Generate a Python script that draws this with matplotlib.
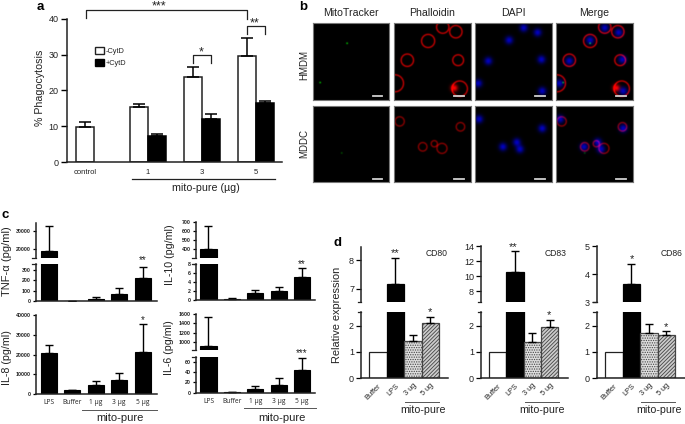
import numpy as np
import matplotlib
matplotlib.use('Agg')
import matplotlib.pyplot as plt
from matplotlib.lines import Line2D
from matplotlib.patches import Patch

plt.rcParams['font.family'] = ['Liberation Sans', 'DejaVu Sans']
plt.rcParams['hatch.linewidth'] = 0.6

W, H = 685, 424
INK = '#222222'

## panel a
a_minus = [9.7, 15.3, 23.6, 29.5]
a_minus_err = [1.5, 1.0, 2.9, 5.0]
a_plus = [7.2, 11.9, 16.5]
a_plus_err = [0.7, 1.4, 0.6]
a_labels = ['control', '1', '3', '5']

## panel c: LPS, Buffer, 1, 3, 5 ug
c_labels = ['LPS', 'Buffer', '1 µg', '3 µg', '5 µg']
tnf = [18900, 3, 22, 68, 225]
tnf_top = [32600, 4, 38, 125, 330]
il10 = [400, 0.3, 1.7, 2.1, 5.0]
il10_top = [655, 0.45, 2.3, 3.0, 7.0]
il8 = [21000, 2000, 4800, 7300, 21200]
il8_top = [25000, 2400, 6500, 10700, 35300]
il6 = [912, 0.4, 7, 15, 45]
il6_top = [1530, 0.6, 13, 29, 67]

## panel d: Buffer, LPS, 3, 5 ug
d_labels = ['Buffer', 'LPS', '3 ug', '5 ug']
cd80 = [1, 7.17, 1.43, 2.1]
cd80_top = [1, 8.08, 1.65, 2.33]
cd83 = [1, 10.5, 1.38, 1.95]
cd83_top = [1, 13.4, 1.72, 2.2]
cd86 = [1, 3.65, 1.7, 1.65]
cd86_top = [1, 4.37, 2.05, 1.78]

## panel b: cells as (x, y, radius) in fractions of the image
hmdm_rings = [(0.44, 0.23, 0.085), (0.17, 0.48, 0.08), (0.83, 0.48, 0.07), (0.80, 0.11, 0.08),
              (0.63, 0.05, 0.08), (0.01, 0.78, 0.11), (0.85, 0.85, 0.10)]
hmdm_nuclei = [(0.44, 0.22), (0.81, 0.12), (0.63, 0.06), (0.17, 0.49), (0.86, 0.47), (0.04, 0.78), (0.87, 0.88)]
hmdm_spots = [(0.44, 0.26), (0.09, 0.77)]
hmdm_blobs = [(0.78, 0.84)]
mddc_rings = [(0.07, 0.21, 0.06), (0.86, 0.28, 0.055), (0.37, 0.54, 0.055), (0.52, 0.50, 0.04),
              (0.62, 0.56, 0.065)]
mddc_nuclei = [(0.05, 0.18), (0.87, 0.30), (0.36, 0.54), (0.54, 0.48), (0.58, 0.57)]
mddc_spots = [(0.37, 0.62)]
mddc_blobs = []
b_cols = ['MitoTracker', 'Phalloidin', 'DAPI', 'Merge']
b_rows = ['HMDM', 'MDDC']

fig = plt.figure(figsize=(W / 100, H / 100), dpi=100)


def px_axes(left, top, right, bottom):
    ax = fig.add_axes([left / W, 1 - bottom / H, (right - left) / W, (bottom - top) / H])
    ax.patch.set_alpha(0)
    ax.spines['top'].set_visible(False)
    ax.spines['right'].set_visible(False)
    for s in ax.spines.values():
        s.set_linewidth(1.1)
        s.set_color(INK)
    return ax


def label(x, y, s, size=8, **kw):
    kw.setdefault('ha', 'center')
    kw.setdefault('va', 'center')
    kw.setdefault('color', INK)
    fig.text(x / W, 1 - y / H, s, fontsize=size, **kw)


def stars(x, y, s, size=9):
    # the asterisk sits high in its line box
    label(x, y + 0.4 * size, s, size)


def rule(xs, ys, color=INK, lw=0.9):
    fig.add_artist(Line2D([x / W for x in xs], [1 - y / H for y in ys], color=color, lw=lw))


def err_bars(ax, x, vals, tops, capsize=3.0, lw=1.1):
    for xi, v, t in zip(x, vals, tops):
        if t > v:
            ax.errorbar(xi, v, yerr=[[0], [t - v]], color='black', lw=lw, capsize=capsize, capthick=lw)


## ---- panel a
ax = px_axes(67, 18.7, 282, 162)
xm = [0, 3, 6, 9]
xp = [4, 7, 10]
ax.bar(xm, a_minus, width=1, color='white', edgecolor=INK, lw=1.1)
ax.bar(xp, a_plus, width=1, color='black', edgecolor='black', lw=1.1)
err_bars(ax, xm, a_minus, [v + e for v, e in zip(a_minus, a_minus_err)], capsize=4)
err_bars(ax, xp, a_plus, [v + e for v, e in zip(a_plus, a_plus_err)], capsize=4)
ax.set_xlim(-1, 10.94)
ax.set_ylim(0, 40)
ax.set_yticks([0, 10, 20, 30, 40])
ax.tick_params(axis='y', labelsize=6.5, length=4, width=1, pad=2, labelcolor=INK)
ax.set_xticks([0, 3.5, 6.5, 9.5], a_labels)
ax.tick_params(axis='x', length=0, labelsize=5.5, pad=5, labelcolor=INK)
ax.legend(handles=[Patch(facecolor='white', edgecolor=INK, label='-CytD'),
                   Patch(facecolor='black', edgecolor='black', label='+CytD')],
          loc='upper left', bbox_to_anchor=(0.115, 0.83), frameon=False, fontsize=5.3,
          handlelength=1.1, handleheight=1.1, handletextpad=0.3, labelspacing=0.55, borderpad=0,
          labelcolor=INK)
label(40, 88, '% Phagocytosis', 7.7, rotation=90)
rule([132, 275], [179, 179])
label(206, 188, 'mito-pure (µg)', 7.7)
rule([86, 86, 247, 247], [18, 10, 10, 19])
rule([247, 247, 265, 265], [34, 26, 26, 34])
rule([193, 193, 211, 211], [63, 55, 55, 63])
stars(159, 3, '***', 9)
stars(255, 20, '**', 9)
stars(201, 49, '*', 9)
label(40, 7, 'a', 9.5, weight='bold', color='black')


## ---- panel b
def ring_image(rings, n=154, amp=1.0, w=0.011):
    yy, xx = np.mgrid[0:n, 0:n] / n
    img = np.zeros((n, n))
    for cx, cy, r in rings:
        dist = np.hypot(xx - cx, yy - cy)
        img += amp * np.exp(-((dist - r) / w) ** 2)
    return np.clip(img, 0, 1)


def nuc_image(nuclei, n=154, r=0.05):
    yy, xx = np.mgrid[0:n, 0:n] / n
    img = np.zeros((n, n))
    for cx, cy in nuclei:
        img += np.exp(-((xx - cx) ** 2 + (yy - cy) ** 2) / r ** 2)
    return np.clip(img, 0, 1)


b_lefts = [312.7, 394, 475, 556.3]
b_tops = [23.3, 105.7]
b_row_y = [65, 144]
sets = [(hmdm_rings, hmdm_nuclei, hmdm_spots, hmdm_blobs, 0.72),
        (mddc_rings, mddc_nuclei, mddc_spots, mddc_blobs, 0.5)]
for r, (rings, nuclei, spots, blobs, amp) in enumerate(sets):
    red = np.clip(ring_image(rings, amp=amp) + nuc_image(blobs, r=0.045), 0, 1)
    blue = nuc_image(nuclei) * 0.75
    green = nuc_image(spots, r=0.012) * (0.7 if r == 0 else 0.3)
    zero = np.zeros_like(red)
    imgs = [np.dstack([zero, green, zero]),
            np.dstack([red, zero, zero]),
            np.dstack([zero, zero, blue]),
            np.dstack([red, green, blue])]
    for c, img in enumerate(imgs):
        ax = px_axes(b_lefts[c], b_tops[r], b_lefts[c] + 76.7, b_tops[r] + 76.3)
        ax.imshow(img, extent=(0, 1, 1, 0), interpolation='bilinear', aspect='auto')
        ax.set_xticks([])
        ax.set_yticks([])
        for s in ax.spines.values():
            s.set_visible(True)
            s.set_color('#777777')
            s.set_linewidth(0.8)
        ax.plot([0.78, 0.91], [0.955, 0.955], color='#d0d0d0', lw=1.3)
        ax.set_xlim(0, 1)
        ax.set_ylim(1, 0)
    label(304, b_row_y[r], b_rows[r], 7, rotation=90)
for c, name in enumerate(b_cols):
    label(b_lefts[c] + 38, 13, name, 7.6)
label(303, 7, 'b', 9.5, weight='bold', color='black')


## ---- broken axis bars for c and d
def bar_panel(vals, tops, x_left, x_right, x0, step, width, low, high, style, hatches=None, capsize=3.0):
    """low / high are (top px, bottom px, ymin, ymax, ticks). high can be None."""
    x = np.arange(len(vals))
    xlim = ((x_left - x0) / step, (x_right - x0) / step)
    axes = []
    for part in (low, high):
        if part is None:
            continue
        top, bottom, y0, y1, ticks = part
        ax = px_axes(x_left, top, x_right, bottom)
        bars = ax.bar(x, vals, width=width, **style)
        if hatches:
            for b, (fc, h) in zip(bars, hatches):
                b.set_facecolor(fc)
                b.set_hatch(h)
                b.set_edgecolor('#444444' if h else ('black' if fc == 'black' else INK))
        err_bars(ax, x, vals, tops, capsize=capsize, lw=1.0)
        ax.set_xlim(*xlim)
        ax.set_ylim(y0, y1)
        ax.set_yticks(ticks)
        axes.append(ax)
    if len(axes) > 1:
        hi_ax = axes[1]
        hi_ax.spines['bottom'].set_visible(False)
        hi_ax.set_xticks([])
    return axes


c_style = dict(color='black', edgecolor='black', lw=0.8)
c_low_fs = 3.8
c_panels = [
    (tnf, tnf_top, 36, 157, 49, (264, 301, 0, 360, [0, 100, 200, 300]),
     (223, 258, 14900, 34400, [20000, 30000])),
    (il10, il10_top, 196, 315, 208.5, (263.7, 300.3, 0, 8, [0, 2, 4, 6, 8]),
     (221.7, 257.7, 304, 700, [400, 500, 600, 700])),
    (il6, il6_top, 196, 315, 208.5, (356.7, 392.7, 0, 70, [0, 20, 40, 60]),
     (314.3, 350.3, 812, 1600, [1000, 1200, 1400, 1600])),
]
for vals, tops, xl, xr, x0, low, high in c_panels:
    axs = bar_panel(vals, tops, xl, xr, x0, 23.4, 0.69, low, high, c_style)
    for ax in axs:
        ax.tick_params(axis='y', labelsize=c_low_fs, length=2.5, width=0.9, pad=1.5, labelcolor=INK)
        for t in ax.get_yticklabels():
            t.set_weight('bold')
    axs[0].set_xticks([])
    # end ticks at the axis break
    axs[0].plot([0, -0.03], [1, 1], transform=axs[0].transAxes, color=INK, lw=0.9, clip_on=False)
    axs[1].plot([0, -0.03], [0, 0], transform=axs[1].transAxes, color=INK, lw=0.9, clip_on=False)

ax = bar_panel(il8, il8_top, 36, 157, 49, 23.4, 0.69, (315, 394.3, 0, 40000, [0, 10000, 20000, 30000, 40000]), None, c_style)[0]
ax.tick_params(axis='y', labelsize=c_low_fs, length=2.5, width=0.9, pad=1.5, labelcolor=INK)
for t in ax.get_yticklabels():
    t.set_weight('bold')
ax.set_xticks([])

for x0, y in [(49, 404), (208.5, 403)]:
    for i, name in enumerate(c_labels):
        label(x0 + 23.4 * i, y, name, 4.8, family=['Open Sans', 'DejaVu Sans'], va='baseline')

label(7, 261, 'TNF-α (pg/ml)', 8, rotation=90)
label(7, 358, 'IL-8 (pg/ml)', 7.7, rotation=90)
label(170, 255, 'IL-10 (pg/ml)', 7.7, rotation=90)
label(169, 348, 'IL-6 (pg/ml)', 7.7, rotation=90)
rule([82, 157], [410, 410], color='#555555', lw=0.7)
rule([244, 316], [408, 408], color='#555555', lw=0.7)
label(120, 418, 'mito-pure', 8)
label(282, 418, 'mito-pure', 8)
label(5, 215, 'c', 9.5, weight='bold', color='black')
stars(143, 257, '**', 7)
stars(143, 317, '*', 7)
stars(302, 261, '**', 7)
stars(302, 350, '***', 7)

## ---- panel d
d_hatches = [('white', ''), ('black', ''), ('#dddddd', '.......'), ('#cccccc', '/////////')]
d_style = dict(color='white', edgecolor=INK, lw=0.9)
d_panels = [
    (cd80, cd80_top, 361, 448, 378, (312.3, 378.3, 0, 2.5, [0, 1, 2]),
     (246.7, 302.3, 6.52, 8.48, [7, 8]), 'CD80', 437),
    (cd83, cd83_top, 481, 568, 497.5, (312.3, 378.3, 0, 2.5, [0, 1, 2]),
     (246, 302.3, 6.5, 14, [8, 10, 12, 14]), 'CD83', 556),
    (cd86, cd86_top, 596.7, 685, 614, (312.3, 378.3, 0, 2.5, [0, 1, 2]),
     (246, 302.3, 3, 5, [3, 4, 5]), 'CD86', 672),
]
for vals, tops, xl, xr, x0, low, high, name, nx in d_panels:
    axs = bar_panel(vals, tops, xl, xr, x0, 17.4, 1.0, low, high, d_style, hatches=d_hatches, capsize=3)
    for ax in axs:
        ax.tick_params(axis='y', labelsize=6.5, length=3.5, width=0.9, pad=1.5, labelcolor=INK)
    axs[0].set_xticks(np.arange(4), d_labels, rotation=45, ha='right', rotation_mode='anchor')
    axs[0].tick_params(axis='x', length=0, labelsize=5.3, pad=3, labelcolor=INK)
    axs[0].plot([0, -0.04], [1, 1], transform=axs[0].transAxes, color=INK, lw=0.9, clip_on=False)
    axs[1].plot([0, -0.04], [0, 0], transform=axs[1].transAxes, color=INK, lw=0.9, clip_on=False)
    label(nx, 254, name, 6.2)
    rule([x0 + 27, x0 + 61], [402, 402], color='#555555', lw=0.7)
    label(x0 + 45, 410, 'mito-pure', 7.7)

label(337, 315, 'Relative expression', 7.9, rotation=90)
label(337, 243, 'd', 9.5, weight='bold', color='black')
stars(395, 250, '**', 8)
stars(430, 309, '*', 8)
stars(513, 244, '**', 8)
stars(549, 312, '*', 8)
stars(632, 256, '*', 8)
stars(666, 324, '*', 8)

fig.savefig('out.png', dpi=100)
